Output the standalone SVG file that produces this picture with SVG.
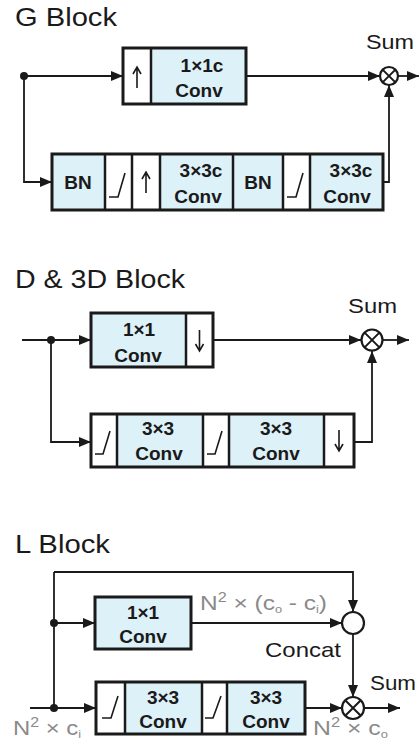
<svg xmlns="http://www.w3.org/2000/svg" width="419" height="747" viewBox="0 0 419 747">
<style>
.title{font-family:"Liberation Sans",Arial,sans-serif;font-size:26px;fill:#1a1a1a}
.lbl{font-family:"Liberation Sans",Arial,sans-serif;font-size:21px;fill:#1a1a1a}
.gray{font-family:"Liberation Sans",Arial,sans-serif;font-size:21px;fill:#8a8a8a}
.bt{font-family:"Liberation Sans",Arial,sans-serif;font-size:19px;font-weight:bold;fill:#1a1a1a;text-anchor:middle}
.blue{fill:#ddf1f9}
.white{fill:#ffffff}
.frame{fill:none;stroke:#1a1a1a;stroke-width:3}
.div{stroke:#1a1a1a;stroke-width:2.5}
.icon{fill:none;stroke:#1a1a1a;stroke-width:1.6;stroke-linejoin:miter}
.xx{fill:none;stroke:#1a1a1a;stroke-width:2}
.wire{fill:none;stroke:#1a1a1a;stroke-width:1.8}
.circ{fill:#ffffff;stroke:#1a1a1a;stroke-width:2.2}
.dot{fill:#1a1a1a}
</style>
<defs>
<marker id="ah" viewBox="0 0 12 10" refX="12" refY="5" markerWidth="12" markerHeight="10" markerUnits="userSpaceOnUse" orient="auto">
<path d="M0,0 L12,5 L0,10 z" fill="#1a1a1a"/>
</marker>
</defs>

<!-- Titles -->
<text class="title" x="15" y="26" textLength="102" lengthAdjust="spacingAndGlyphs">G Block</text>
<text class="title" x="15" y="288" textLength="170" lengthAdjust="spacingAndGlyphs">D &amp; 3D Block</text>
<text class="title" x="15" y="553" textLength="95" lengthAdjust="spacingAndGlyphs">L Block</text>

<!-- Connectors -->
<g id="connectors">
<!-- G block -->
<path class="wire" d="M24,76 H123" marker-end="url(#ah)"/>
<path class="wire" d="M24,76 V182 H52" marker-end="url(#ah)"/>
<path class="wire" d="M246,76 H380" marker-end="url(#ah)"/>
<path class="wire" d="M398,76 H419" marker-end="url(#ah)"/>
<path class="wire" d="M383,182 H389 V85" marker-end="url(#ah)"/>
<circle class="dot" cx="24" cy="76" r="4"/>
<!-- D block -->
<path class="wire" d="M22,340 H91" marker-end="url(#ah)"/>
<path class="wire" d="M51,340 V442 H91" marker-end="url(#ah)"/>
<path class="wire" d="M213,340 H361" marker-end="url(#ah)"/>
<path class="wire" d="M383,340 H409" marker-end="url(#ah)"/>
<path class="wire" d="M354,442 H372 V351" marker-end="url(#ah)"/>
<circle class="dot" cx="51" cy="340" r="4"/>
<!-- L block -->
<path class="wire" d="M54,572 H353 V612" marker-end="url(#ah)"/>
<path class="wire" d="M54,572 V708"/>
<path class="wire" d="M54,623 H95" marker-end="url(#ah)"/>
<path class="wire" d="M191,623 H342" marker-end="url(#ah)"/>
<path class="wire" d="M353,634 V697" marker-end="url(#ah)"/>
<path class="wire" d="M30,708 H96" marker-end="url(#ah)"/>
<path class="wire" d="M305,708 H342" marker-end="url(#ah)"/>
<path class="wire" d="M364,708 H400" marker-end="url(#ah)"/>
<circle class="dot" cx="54" cy="623" r="4"/>
<circle class="dot" cx="54" cy="708" r="4"/>
</g>

<!-- G block nodes -->
<g id="g-top">
<rect class="white" x="123" y="48" width="28" height="56"/>
<rect class="blue" x="151" y="48" width="95" height="56"/>
<line class="div" x1="151" y1="48" x2="151" y2="104"/>
<path class="icon" d="M137,88 V67 M133,74 L137,67 L141,74"/>
<rect class="frame" x="123" y="48" width="123" height="56"/>
<text class="bt" x="202" y="72">1×1c</text>
<text class="bt" x="199" y="97">Conv</text>
</g>
<g id="g-bottom">
<rect class="blue" x="52" y="154" width="53" height="56"/>
<rect class="white" x="105" y="154" width="55" height="56"/>
<rect class="blue" x="160" y="154" width="73" height="56"/>
<rect class="blue" x="233" y="154" width="50" height="56"/>
<rect class="white" x="283" y="154" width="27" height="56"/>
<rect class="blue" x="310" y="154" width="73" height="56"/>
<line class="div" x1="105" y1="154" x2="105" y2="210"/>
<line class="div" x1="132" y1="154" x2="132" y2="210"/>
<line class="div" x1="160" y1="154" x2="160" y2="210"/>
<line class="div" x1="233" y1="154" x2="233" y2="210"/>
<line class="div" x1="283" y1="154" x2="283" y2="210"/>
<line class="div" x1="310" y1="154" x2="310" y2="210"/>
<path class="icon" d="M109,197 H118 L125,173"/>
<path class="icon" d="M146,193 V172 M142,179 L146,172 L150,179"/>
<path class="icon" d="M287,197 H296 L303,173"/>
<rect class="frame" x="52" y="154" width="331" height="56"/>
<text class="bt" x="78" y="189">BN</text>
<text class="bt" x="201" y="177">3×3c</text>
<text class="bt" x="198" y="203">Conv</text>
<text class="bt" x="258" y="189">BN</text>
<text class="bt" x="351" y="177">3×3c</text>
<text class="bt" x="347" y="203">Conv</text>
</g>
<g id="g-sum">
<circle class="circ" cx="389" cy="76" r="9"/>
<path class="xx" d="M382.6,69.6 L395.4,82.4 M395.4,69.6 L382.6,82.4"/>
<text class="lbl" x="366" y="49" textLength="48" lengthAdjust="spacingAndGlyphs">Sum</text>
</g>

<!-- D block nodes -->
<g id="d-top">
<rect class="blue" x="91" y="313" width="95" height="54"/>
<rect class="white" x="186" y="313" width="27" height="54"/>
<line class="div" x1="186" y1="313" x2="186" y2="367"/>
<path class="icon" d="M199.5,330 V351 M195.5,344 L199.5,351 L203.5,344"/>
<rect class="frame" x="91" y="313" width="122" height="54"/>
<text class="bt" x="139" y="336">1×1</text>
<text class="bt" x="138" y="362">Conv</text>
</g>
<g id="d-bottom">
<rect class="white" x="91" y="414" width="26" height="53"/>
<rect class="blue" x="117" y="414" width="86" height="53"/>
<rect class="white" x="203" y="414" width="26" height="53"/>
<rect class="blue" x="229" y="414" width="95" height="53"/>
<rect class="white" x="324" y="414" width="30" height="53"/>
<line class="div" x1="117" y1="414" x2="117" y2="467"/>
<line class="div" x1="203" y1="414" x2="203" y2="467"/>
<line class="div" x1="229" y1="414" x2="229" y2="467"/>
<line class="div" x1="324" y1="414" x2="324" y2="467"/>
<path class="icon" d="M95,454 H103 L110,431"/>
<path class="icon" d="M207,454 H215 L222,431"/>
<path class="icon" d="M339,430 V451 M335,444 L339,451 L343,444"/>
<rect class="frame" x="91" y="414" width="263" height="53"/>
<text class="bt" x="158" y="435">3×3</text>
<text class="bt" x="159" y="460">Conv</text>
<text class="bt" x="276" y="435">3×3</text>
<text class="bt" x="276" y="460">Conv</text>
</g>
<g id="d-sum">
<circle class="circ" cx="372" cy="340" r="10.5"/>
<path class="xx" d="M364.6,332.6 L379.4,347.4 M379.4,332.6 L364.6,347.4"/>
<text class="lbl" x="348" y="313" textLength="49" lengthAdjust="spacingAndGlyphs">Sum</text>
</g>

<!-- L block nodes -->
<g id="l-conv1">
<rect class="blue" x="95" y="597" width="96" height="52"/>
<rect class="frame" x="95" y="597" width="96" height="52"/>
<text class="bt" x="143" y="619">1×1</text>
<text class="bt" x="143" y="643">Conv</text>
</g>
<g id="l-bottom">
<rect class="white" x="96" y="682" width="29" height="52"/>
<rect class="blue" x="125" y="682" width="77" height="52"/>
<rect class="white" x="202" y="682" width="25" height="52"/>
<rect class="blue" x="227" y="682" width="78" height="52"/>
<line class="div" x1="125" y1="682" x2="125" y2="734"/>
<line class="div" x1="202" y1="682" x2="202" y2="734"/>
<line class="div" x1="227" y1="682" x2="227" y2="734"/>
<path class="icon" d="M102,718 H111 L118,696"/>
<path class="icon" d="M205,718 H213 L221,696"/>
<rect class="frame" x="96" y="682" width="209" height="52"/>
<text class="bt" x="163" y="704">3×3</text>
<text class="bt" x="163" y="728">Conv</text>
<text class="bt" x="266" y="704">3×3</text>
<text class="bt" x="266" y="728">Conv</text>
</g>
<g id="l-concat">
<circle class="circ" cx="353" cy="623" r="11"/>
<text class="lbl" x="265" y="657" textLength="76" lengthAdjust="spacingAndGlyphs">Concat</text>
</g>
<g id="l-sum">
<circle class="circ" cx="353" cy="708" r="11"/>
<path class="xx" d="M345.2,700.2 L360.8,715.8 M360.8,700.2 L345.2,715.8"/>
<text class="lbl" x="370" y="690" textLength="46" lengthAdjust="spacingAndGlyphs">Sum</text>
</g>
<g id="l-labels">
<text class="gray" x="200" y="610" textLength="127" lengthAdjust="spacingAndGlyphs">N<tspan font-size="14" dy="-8">2</tspan><tspan dy="8"> × (c</tspan><tspan font-size="11" dy="3">o</tspan><tspan dy="-3"> - c</tspan><tspan font-size="11" dy="3">i</tspan><tspan dy="-3">)</tspan></text>
<text class="gray" x="13" y="735" textLength="68" lengthAdjust="spacingAndGlyphs">N<tspan font-size="14" dy="-8">2</tspan><tspan dy="8"> × c</tspan><tspan font-size="11" dy="3">i</tspan></text>
<text class="gray" x="313" y="735" textLength="75" lengthAdjust="spacingAndGlyphs">N<tspan font-size="14" dy="-8">2</tspan><tspan dy="8"> × c</tspan><tspan font-size="11" dy="3">o</tspan></text>
</g>
</svg>
